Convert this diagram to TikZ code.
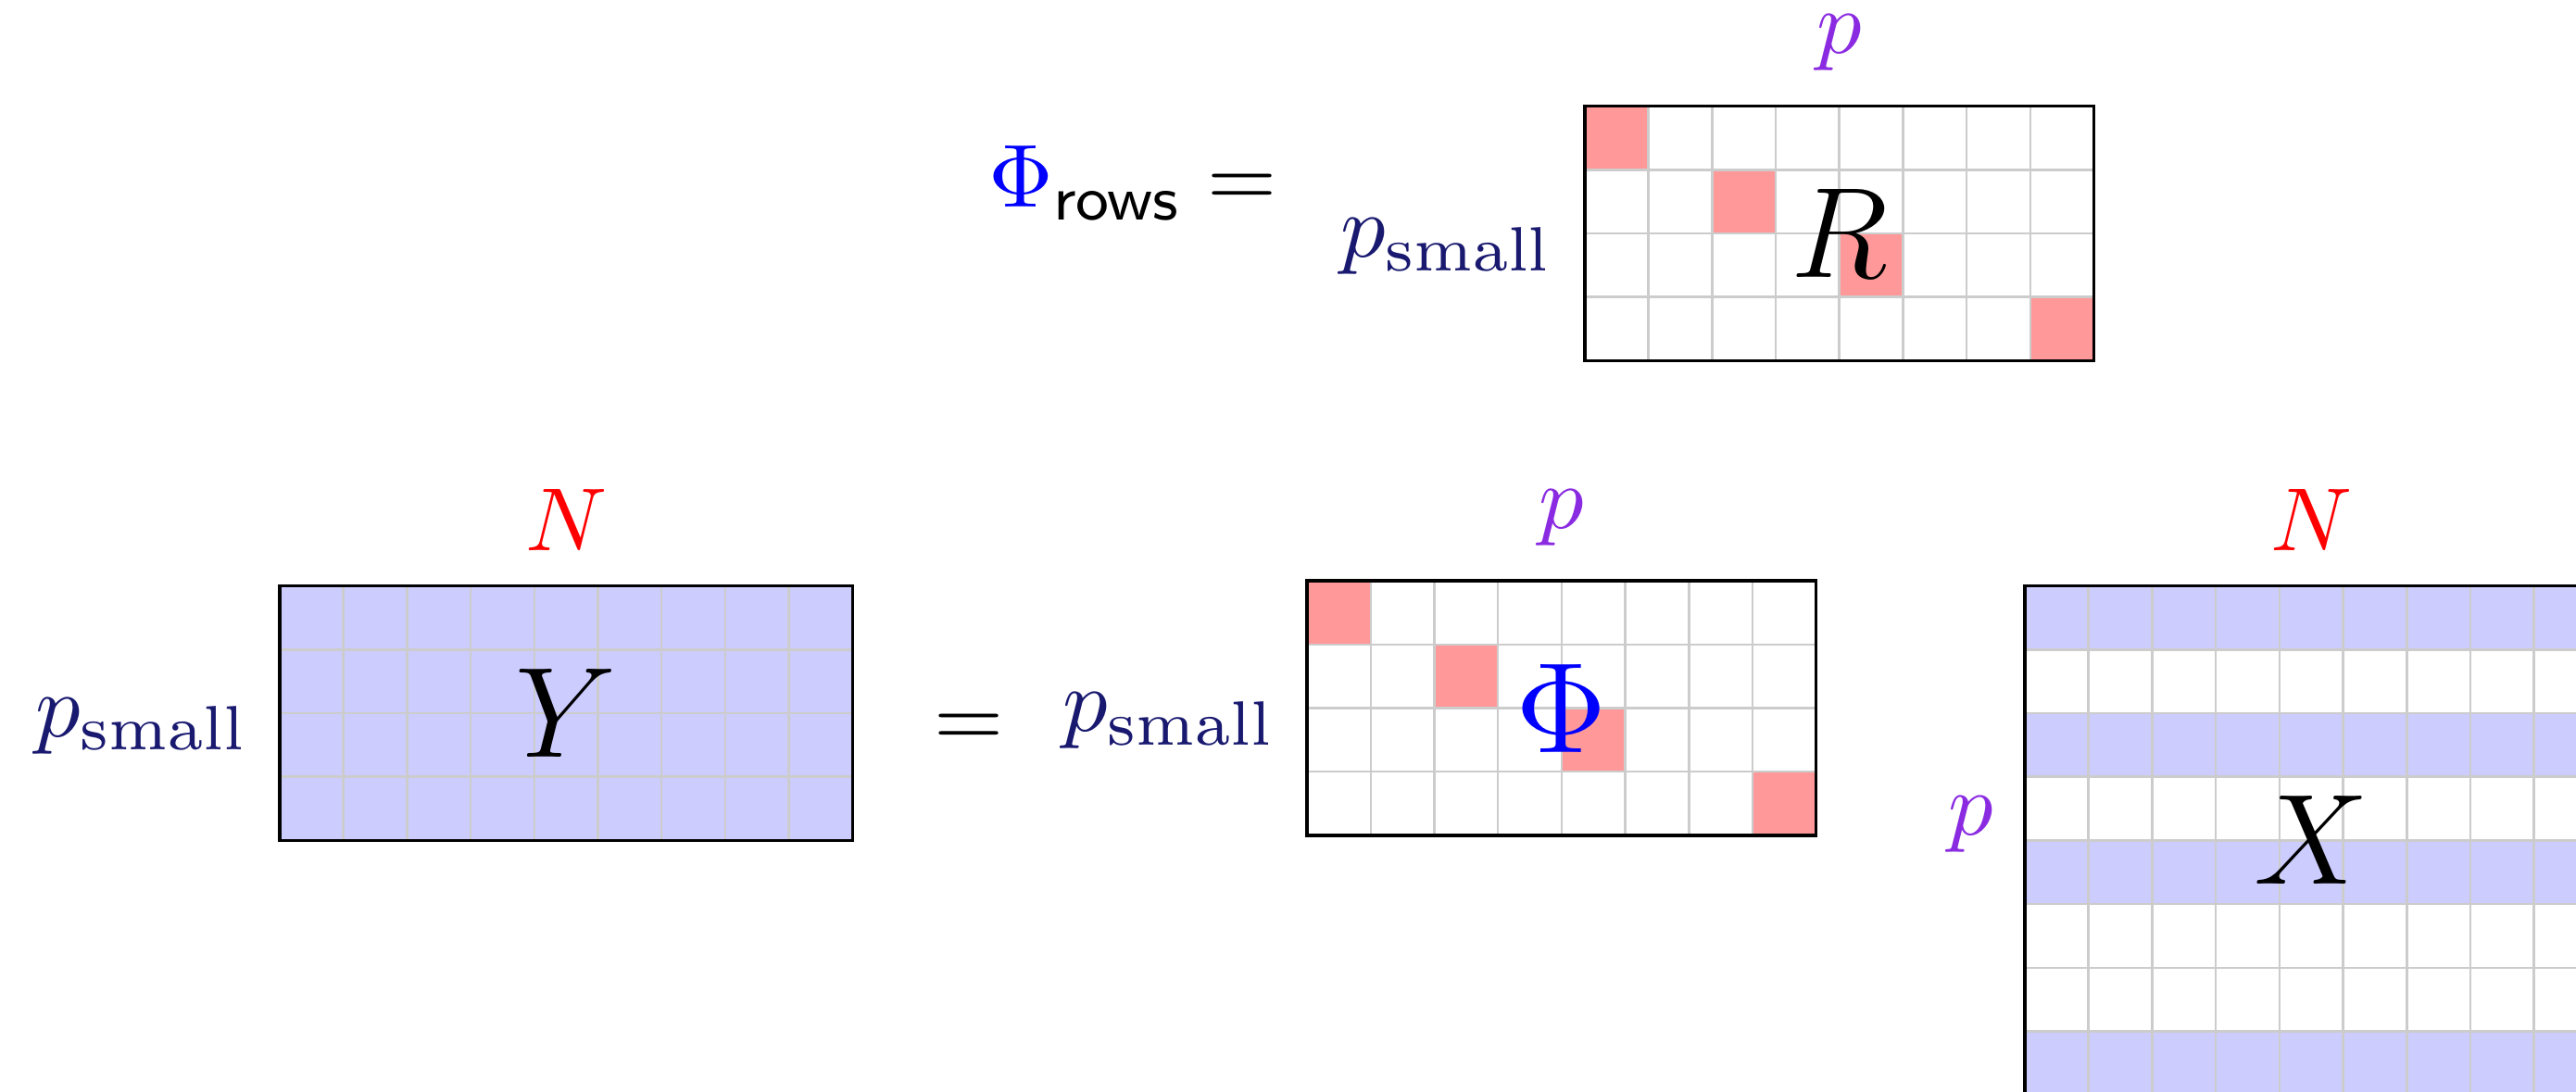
\documentclass[tikz,border=0pt]{standalone}
\usepackage{amsmath,amssymb}
\usepackage{xcolor}
\usepackage{tikz}
\usetikzlibrary{positioning, backgrounds}
\definecolor{dimpurple}{RGB}{138, 43, 226}
\definecolor{dimnavy}{RGB}{25, 25, 112}
\definecolor{cellblue}{RGB}{204, 204, 255}
\definecolor{cellred}{RGB}{255, 153, 153}
\definecolor{gridgray}{RGB}{204, 204, 204}
\newcommand{\cs}{0.25}

\begin{document}
\begin{tikzpicture}[
    mat/.style={rectangle, draw=black, line width=0.35pt, inner sep=0pt, outer sep=0pt, anchor=north west, font=\Large},
    gridline/.style={draw=gridgray, line width=0.26pt},
    dimlab/.style={font=\normalsize, inner sep=0.3333em}]
    \useasboundingbox (0,0) rectangle (10.120,-4.287);
    \clip (0,0) rectangle (10.120,-4.287);

    % matrices
    \node [mat, minimum width=2cm, minimum height=1cm] (Rmat) at (6.226,-0.417) {$R$};
    \node [mat, minimum width=2.25cm, minimum height=1cm] (Ymat) at (1.099,-2.302) {$Y$};
    \node [mat, minimum width=2cm, minimum height=1cm, text=blue] (Phimat) at (5.135,-2.282) {$\Phi$};
    \node [mat, minimum width=2.25cm, minimum height=2cm] (Xmat) at (7.955,-2.302) {$X$};

    % dimension labels
    \node [dimlab, inner sep=0pt, text=dimpurple, above=0.132cm of Rmat] (Rcols) {$p$};
    \node [dimlab, text=dimnavy, left=0pt of Rmat, yshift=-0.052cm] (Rrows) {$p_{\mathrm{small}}$};
    \node [dimlab, left=0pt of Rrows, yshift=0.251cm] (phirows) {$\textcolor{blue}{\Phi}_{\mathsf{rows}} =$};
    \node [dimlab, text=red, above=0.015cm of Ymat] (Ycols) {$N$};
    \node [dimlab, text=dimnavy, left=0pt of Ymat, yshift=-0.05cm] (Yrows) {$p_{\mathrm{small}}$};
    \node [dimlab, right=0.198cm of Ymat, yshift=-0.069cm] (eqmain) {$=$};
    \node [dimlab, text=dimpurple, above=0.015cm of Phimat] (Phicols) {$p$};
    \node [dimlab, text=dimnavy, left=0pt of Phimat, yshift=-0.051cm] (Phirows) {$p_{\mathrm{small}}$};
    \node [dimlab, text=red, above=0.015cm of Xmat] (Xcols) {$N$};
    \node [dimlab, text=dimpurple, left=0pt of Xmat, yshift=0.064cm] (Xrows) {$p$};

    \begin{scope}[on background layer]
        \clip (0,0) rectangle (10.120,-4.287);
        \fill [white] (0,0) rectangle (10.120,-4.287);
        % Y: every cell filled
        \fill [cellblue] (Ymat.north west) rectangle (Ymat.south east);
        \begin{scope}[shift={(Ymat.north west)}]
            \foreach \i in {1,...,8} \draw [gridline] ({\i*\cs},0) -- ({\i*\cs},-1);
            \foreach \j in {1,...,3} \draw [gridline] (0,{-\j*\cs}) -- (2.25,{-\j*\cs});
        \end{scope}
        % R and Phi: selected entries
        \foreach \m in {Rmat,Phimat} {
            \begin{scope}[shift={(\m.north west)}]
                \foreach \c/\r in {1/1,3/2,5/3,8/4}
                    \fill [cellred] ({(\c-1)*\cs},{-(\r-1)*\cs}) rectangle ++(\cs,-\cs);
                \foreach \i in {1,...,7} \draw [gridline] ({\i*\cs},0) -- ({\i*\cs},-1);
                \foreach \j in {1,...,3} \draw [gridline] (0,{-\j*\cs}) -- (2,{-\j*\cs});
            \end{scope}
        }
        % X: kept rows
        \begin{scope}[shift={(Xmat.north west)}]
            \foreach \r in {1,3,5,8}
                \fill [cellblue] (0,{-(\r-1)*\cs}) rectangle ++(2.25,-\cs);
            \foreach \i in {1,...,8} \draw [gridline] ({\i*\cs},0) -- ({\i*\cs},-2);
            \foreach \j in {1,...,7} \draw [gridline] (0,{-\j*\cs}) -- (2.25,{-\j*\cs});
        \end{scope}
    \end{scope}
\end{tikzpicture}
\end{document}
